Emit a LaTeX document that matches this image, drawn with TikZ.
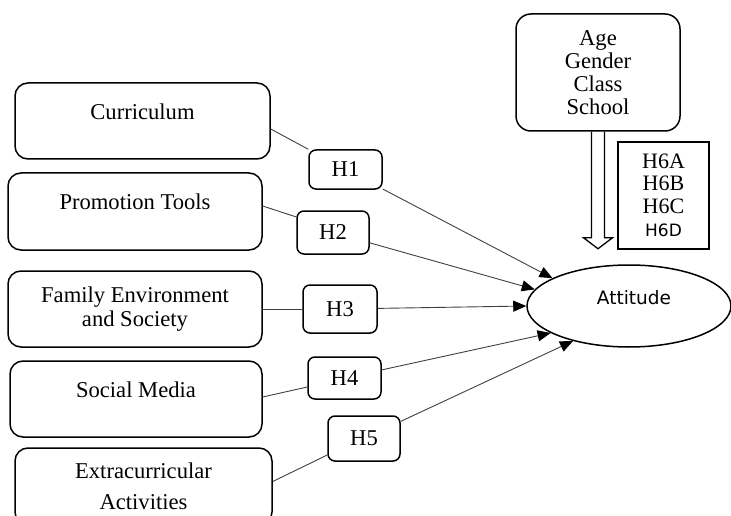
\documentclass[tikz,border=0pt]{standalone}
\usepackage{fontspec}
\setmainfont{Liberation Serif}
\newfontfamily\sansfnt{DejaVu Sans}
\usetikzlibrary{arrows.meta,shapes.geometric}

\tikzset{
  factor/.style={draw, line width=1.5pt, rounded corners=13pt, minimum width=254pt,
    minimum height=76pt, align=center, inner sep=0pt, font=\fontsize{22.6}{24}\selectfont},
  oneline/.style={text depth=19pt},
  hyp/.style={draw, line width=1.5pt, rounded corners=7pt, minimum width=73pt,
    minimum height=43pt, inner sep=0pt, font=\fontsize{22.6}{24}\selectfont},
  link/.style={line width=0.9pt, black!75},
  effect/.style={link, -{Triangle[length=13pt,width=11pt,black]}},
}

\begin{document}
\begin{tikzpicture}[x=1pt,y=-1pt]
    \useasboundingbox (0,0) rectangle (731,516);
    %fattori
    \node[factor, oneline, minimum width=255pt] (curr) at (142.5,121) {Curriculum};
    \node[factor, oneline, minimum height=77pt] (promo) at (135,211.5) {Promotion Tools};
    \node[factor] (family) at (135,309) {Family Environment\\and Society};
    \node[factor, oneline, minimum width=252pt] (social) at (136,399) {Social Media};
    \node[factor, minimum width=257pt, minimum height=77pt] (extra) at (143.5,486.5) {Extracurricular\\[7pt]Activities};
    %ipotesi
    \node[hyp, minimum height=39pt] (h1) at (345.5,169.5) {H1};
    \node[hyp, minimum width=72pt] (h2) at (333,232.5) {H2};
    \node[hyp, minimum width=74pt, minimum height=48pt] (h3) at (340,309) {H3};
    \node[hyp, minimum height=42pt] (h4) at (344.5,378) {H4};
    \node[hyp, minimum width=72pt, minimum height=45pt] (h5) at (364,438.5) {H5};
    %variabile dipendente
    \node[draw, ellipse, line width=1.5pt, minimum width=204pt, minimum height=82pt, inner sep=0pt,
      font=\sansfnt\fontsize{18.5}{22}\selectfont, text depth=17pt] (att) at (629,306) {\hspace*{10pt}Attitude};
    %controlli
    \node[draw, line width=1.5pt, rounded corners=15pt, minimum width=164pt, minimum height=117pt,
      align=center, inner sep=0pt, font=\fontsize{22.6}{23}\selectfont] (demo) at (598,72.5) {Age\\Gender\\Class\\School};
    \node[draw, line width=1.3pt, minimum width=91pt, minimum height=107pt, align=center, inner sep=0pt,
      font=\fontsize{22}{22.5}\selectfont] (hsix) at (663.5,195.5) {H6A\\H6B\\H6C\\[1pt]{\sansfnt\fontsize{17}{20}\selectfont H6D}};
    %freccia vuota
    \draw[line width=1.3pt, line join=miter] ([xshift=-6.5pt]demo.south) -- ++(0,106) -- ++(-8,0)
      -- ++(14.5,11) -- ++(14.5,-11) -- ++(-8,0) -- ([xshift=6.5pt]demo.south);
    %linee
    \draw[link] ([yshift=-8pt]curr.east) -- (h1.north west);
    \draw[link] ([yshift=5.5pt]promo.east) -- ([yshift=15.5pt]h2.west);
    \draw[link] (family.east) -- (h3.west);
    \draw[link] ([yshift=2pt]social.east) -- ([yshift=-9pt]h4.west);
    \draw[link] ([yshift=5pt]extra.east) -- ([yshift=-16.5pt]h5.west);
    %frecce
    \draw[effect] (h1) -- (att.160);
    \draw[effect] (h2) -- (att.170);
    \draw[effect] (h3) -- (att.west);
    \draw[effect] (h4) -- (att.199);
    \draw[effect] (h5) -- (att.212);
\end{tikzpicture}
\end{document}
